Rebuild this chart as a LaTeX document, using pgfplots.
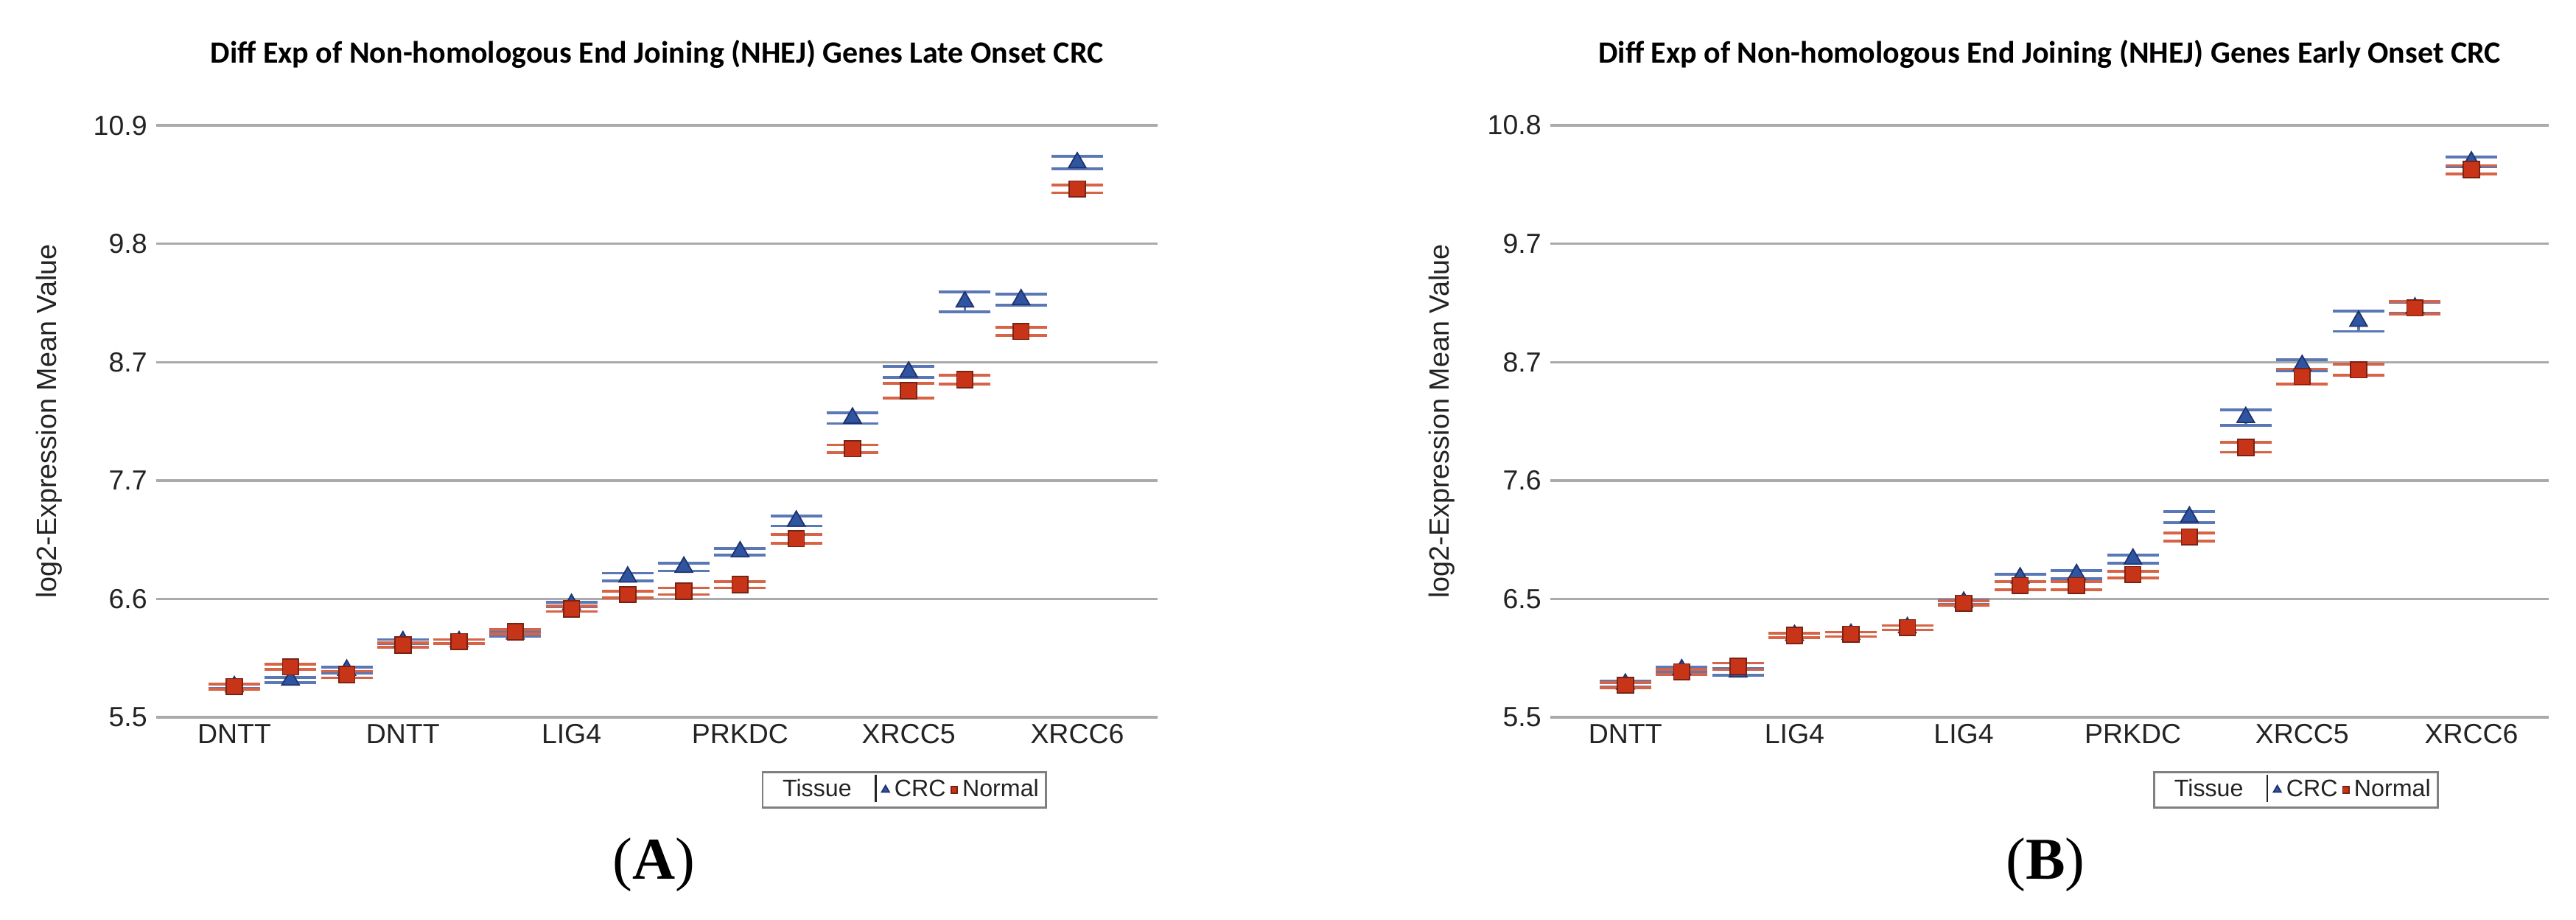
\documentclass[border=0pt]{standalone}
\usepackage{fontspec}
\setmainfont{Liberation Sans}
\newfontfamily\titlefont{Carlito}
\newfontfamily\panelfont{Liberation Serif}
\usepackage{pgfplots}
\pgfplotsset{compat=1.18}
\usepackage{pgfplotstable}

\definecolor{crcfill}{RGB}{47,84,160}
\definecolor{crcedge}{RGB}{30,50,110}
\definecolor{crccap}{RGB}{90,120,182}
\definecolor{norfill}{RGB}{200,52,24}
\definecolor{noredge}{RGB}{120,35,20}
\definecolor{norcap}{RGB}{215,100,70}
\definecolor{gridgray}{RGB}{170,170,170}
\definecolor{txt}{RGB}{35,35,35}

% late onset: position, CRC mean, CRC err, Normal mean, Normal err
\pgfplotstableread{
x  crc   crcerr nor   norerr
0  5.78  0.020  5.78  0.025
1  5.84  0.025  5.96  0.025
2  5.93  0.030  5.89  0.030
3  6.19  0.020  6.16  0.020
4  6.19  0.020  6.19  0.020
5  6.26  0.020  6.28  0.020
6  6.53  0.020  6.49  0.025
7  6.78  0.035  6.62  0.030
8  6.87  0.035  6.65  0.030
9  7.01  0.030  6.71  0.030
10 7.29  0.045  7.13  0.040
11 8.23  0.050  7.95  0.035
12 8.65  0.050  8.48  0.065
13 9.29  0.088  8.58  0.040
14 9.31  0.050  9.02  0.036
15 10.56 0.058  10.32 0.035
}\lateonset

% early onset
\pgfplotstableread{
x  crc   crcerr nor   norerr
0  5.75  0.025  5.74  0.025
1  5.88  0.025  5.86  0.025
2  5.86  0.030  5.91  0.030
3  6.19  0.020  6.19  0.020
4  6.20  0.020  6.20  0.020
5  6.26  0.020  6.26  0.020
6  6.49  0.020  6.48  0.020
7  6.71  0.035  6.64  0.035
8  6.74  0.035  6.64  0.035
9  6.88  0.035  6.74  0.030
10 7.26  0.050  7.08  0.035
11 8.16  0.070  7.89  0.045
12 8.63  0.052  8.53  0.068
13 9.03  0.092  8.59  0.050
14 9.15  0.050  9.15  0.058
15 10.47 0.045  10.40 0.037
}\earlyonset

\pgfplotsset{
  nhej/.style={
    scale only axis,
    width=388.3pt, height=229.4pt,
    clip=false,
    axis line style={draw=none},
    major tick length=0pt,
    ymajorgrids,
    grid style={line width=1pt, gridgray},
    xtick={0,3,6,9,12,15},
    tick label style={font=\fontsize{10.7}{12}\selectfont, text=txt},
    /pgf/number format/assume math mode=true,
    xticklabel style={inner sep=2.5pt},
    ylabel={log2-Expression Mean Value},
    ylabel style={font=\fontsize{10.8}{12}\selectfont, text=txt, anchor=center},
    title style={font=\titlefont\bfseries\fontsize{12}{14}\selectfont,
      at={(axis description cs:0.5,1)}, anchor=center, yshift=21.7pt},
    legend style={at={(axis description cs:0.747,-0.1227)}, anchor=center,
      draw=gray, line width=0.7pt, inner sep=0.8pt,
      font=\fontsize{9.2}{10}\selectfont, text=txt},
    legend columns=3,
    legend cell align=left,
  },
  crc/.style={only marks, mark=triangle*, mark size=3.9pt,
    mark options={draw=crcedge, fill=crcfill, line width=0.5pt},
    legend image post style={mark size=1.7pt},
    error bars/.cd, y dir=both, y explicit, error mark=|,
    error bar style={line width=1.1pt, crccap},
    error mark options={line width=1.1pt, crccap, mark size=10pt}},
  nor/.style={only marks, mark=square*, mark size=3.1pt,
    mark options={draw=noredge, fill=norfill, line width=0.5pt},
    legend image post style={mark size=1.2pt},
    error bars/.cd, y dir=both, y explicit, error mark=|,
    error bar style={line width=1.1pt, norcap},
    error mark options={line width=1.1pt, norcap, mark size=10pt}},
}

\begin{document}
\begin{tikzpicture}
\path[use as bounding box] (0,0) rectangle (998.86pt,356.57pt);

\begin{axis}[nhej, at={(60.57pt,78.57pt)}, anchor=south west,
  xmin=-1.39, xmax=16.43, ymin=5.5, ymax=10.9,
  ytick={5.5,6.58,7.66,8.74,9.82,10.9},
  yticklabels={5.5,6.6,7.7,8.7,9.8,10.9},
  xticklabels={DNTT,DNTT,LIG4,PRKDC,XRCC5,XRCC6},
  ylabel style={at={(axis description cs:-0.1067,0.5)}},
  title={Diff Exp of Non-homologous End Joining (NHEJ) Genes Late Onset CRC}]
  \addlegendimage{empty legend}
  \addlegendentry{\hspace{5pt}Tissue\hspace{9pt}\smash{\rule[-2.2pt]{0.7pt}{10.6pt}}}
  \addplot[crc] table[x=x, y=crc, y error=crcerr] {\lateonset};
  \addlegendentry{CRC}
  \addplot[nor] table[x=x, y=nor, y error=norerr] {\lateonset};
  \addlegendentry{Normal}
  \node at (axis description cs:0.497,-0.249)
    {\panelfont\fontsize{23}{26}\selectfont (\textbf{A})};
\end{axis}

\begin{axis}[nhej, at={(601.14pt,78.57pt)}, anchor=south west,
  width=387.1pt,
  xmin=-1.33, xmax=16.37, ymin=5.45, ymax=10.8,
  ytick={5.45,6.52,7.59,8.66,9.73,10.8},
  yticklabels={5.5,6.5,7.6,8.7,9.7,10.8},
  xticklabels={DNTT,LIG4,LIG4,PRKDC,XRCC5,XRCC6},
  ylabel style={at={(axis description cs:-0.109,0.5)}},
  title={Diff Exp of Non-homologous End Joining (NHEJ) Genes Early Onset CRC}]
  \addlegendimage{empty legend}
  \addlegendentry{\hspace{5pt}Tissue\hspace{9pt}\smash{\rule[-2.2pt]{0.7pt}{10.6pt}}}
  \addplot[crc] table[x=x, y=crc, y error=crcerr] {\earlyonset};
  \addlegendentry{CRC}
  \addplot[nor] table[x=x, y=nor, y error=norerr] {\earlyonset};
  \addlegendentry{Normal}
  \node at (axis description cs:0.496,-0.249)
    {\panelfont\fontsize{23}{26}\selectfont (\textbf{B})};
\end{axis}
\end{tikzpicture}
\end{document}
